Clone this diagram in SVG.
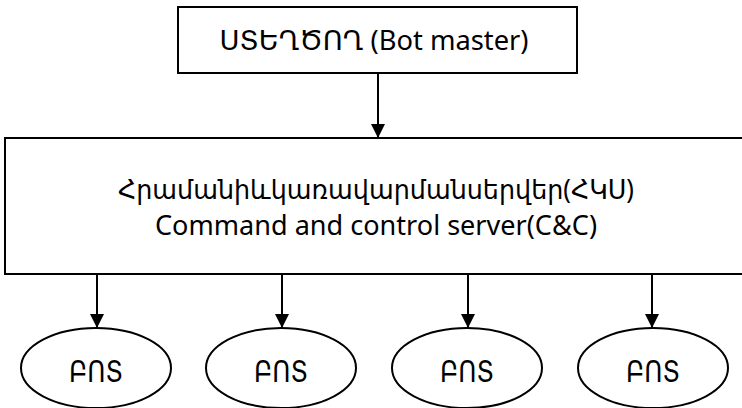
<svg xmlns="http://www.w3.org/2000/svg" width="742" height="408" viewBox="0 0 742 408">
<style>
.box{fill:#fff;stroke:#000;stroke-width:2}
.t{font-family:"Noto Sans","DejaVu Sans",sans-serif;font-size:27px;fill:#000;text-anchor:middle}
.b{font-size:30px}
.c{stroke:#000;stroke-width:2;fill:none}
</style>
<defs>
<marker id="ah" markerUnits="userSpaceOnUse" markerWidth="14" markerHeight="16" refX="14" refY="7" orient="auto" viewBox="0 0 14 14">
<path d="M0,0 L14,7 L0,14 Z" fill="#000"/>
</marker>
</defs>
<rect width="742" height="408" fill="#fff"/>
<g id="connectors">
<line class="c" x1="378" y1="73" x2="378" y2="138" marker-end="url(#ah)"/>
<line class="c" x1="97" y1="274" x2="97" y2="328" marker-end="url(#ah)"/>
<line class="c" x1="282" y1="274" x2="282" y2="328" marker-end="url(#ah)"/>
<line class="c" x1="468" y1="274" x2="468" y2="328" marker-end="url(#ah)"/>
<line class="c" x1="652" y1="274" x2="652" y2="328" marker-end="url(#ah)"/>
</g>
<g id="botmaster">
<rect class="box" x="178" y="7" width="399" height="66"/>
<text class="t" x="374" y="50" textLength="309" lengthAdjust="spacingAndGlyphs">ՍՏԵՂԾՈՂ (Bot master)</text>
</g>
<g id="cc">
<rect class="box" x="5" y="138" width="745" height="136"/>
<text class="t" x="376" y="199" textLength="516" lengthAdjust="spacingAndGlyphs">Հրամանիևկառավարմանսերվեր(ՀԿՍ)</text>
<text class="t" x="376" y="235" textLength="442" lengthAdjust="spacingAndGlyphs">Command and control server(C&amp;C)</text>
</g>
<g id="bot1">
<ellipse class="box" cx="96" cy="368" rx="75" ry="40"/>
<text class="t b" x="96" y="382" textLength="54" lengthAdjust="spacingAndGlyphs">ԲՈՏ</text>
</g>
<g id="bot2">
<ellipse class="box" cx="281" cy="368" rx="75" ry="40"/>
<text class="t b" x="281" y="382" textLength="54" lengthAdjust="spacingAndGlyphs">ԲՈՏ</text>
</g>
<g id="bot3">
<ellipse class="box" cx="467" cy="368" rx="75" ry="40"/>
<text class="t b" x="467" y="382" textLength="54" lengthAdjust="spacingAndGlyphs">ԲՈՏ</text>
</g>
<g id="bot4">
<ellipse class="box" cx="653" cy="368" rx="75" ry="40"/>
<text class="t b" x="653" y="382" textLength="54" lengthAdjust="spacingAndGlyphs">ԲՈՏ</text>
</g>
</svg>
